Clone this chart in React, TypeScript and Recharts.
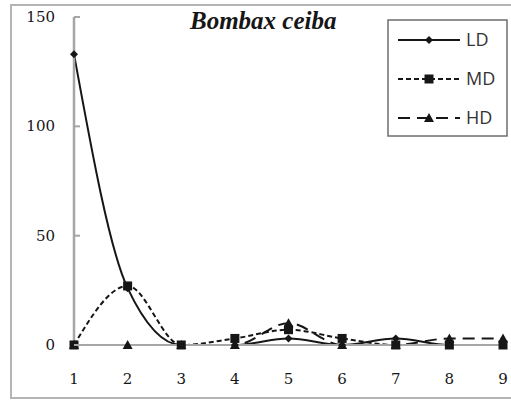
import React from 'react';
import { LineChart, Line, XAxis, YAxis } from 'recharts';

// Sampling positions and counts per series
const positions = [1, 2, 3, 4, 5, 6, 7, 8, 9];
const ldValues = [133, 26, 0, 0, 3, 0, 3, 0, 0];
const mdValues = [0, 27, 0, 3, 7, 3, 0, 0, 0];
const hdValues = [0, 0, 0, 0, 10, 0, 0, 3, 3];
const yTicks = [0, 50, 100, 150];

const data = positions.map((x, i) => ({
  x,
  LD: ldValues[i],
  MD: mdValues[i],
  HD: hdValues[i],
}));

const INK = '#161616';
const AXIS = '#a6a6a6';
const NUM_FONT = '"DejaVu Serif", serif';

const Diamond = (props: any) => {
  const { cx, cy } = props;
  if (cx == null || cy == null) return null;
  return <path d={`M${cx},${cy - 4}L${cx + 4},${cy}L${cx},${cy + 4}L${cx - 4},${cy}Z`} fill={INK} />;
};

const Square = (props: any) => {
  const { cx, cy } = props;
  if (cx == null || cy == null) return null;
  return <rect x={cx - 4.5} y={cy - 4.5} width={9} height={9} fill={INK} />;
};

const Triangle = (props: any) => {
  const { cx, cy } = props;
  if (cx == null || cy == null) return null;
  return <path d={`M${cx},${cy - 5}L${cx + 5},${cy + 4}L${cx - 5},${cy + 4}Z`} fill={INK} />;
};

const YTick = (props: any) => {
  const { x, y, payload } = props;
  return (
    <g>
      <line x1={x} y1={y} x2={x + 6} y2={y} stroke={AXIS} strokeWidth={2} />
      <text x={x - 19} y={y} dy={5} textAnchor="end" fontSize={15} fontFamily={NUM_FONT} fill={INK}>
        {payload.value}
      </text>
    </g>
  );
};

const LegendBox = () => {
  const rows = [
    { name: 'LD', dash: undefined, Mark: Diamond },
    { name: 'MD', dash: '5 3', Mark: Square },
    { name: 'HD', dash: '12 7', Mark: Triangle },
  ];
  return (
    <svg width={121} height={118} style={{ display: 'block' }}>
      <rect x={1} y={1} width={119} height={116} fill="#fff" stroke="#6e6e6e" strokeWidth={1.5} />
      {rows.map((r, i) => {
        const cy = 21 + i * 39;
        return (
          <g key={r.name}>
            <line x1={11} y1={cy} x2={73} y2={cy} stroke={INK} strokeWidth={2} strokeDasharray={r.dash} />
            <r.Mark cx={42} cy={cy} />
            <text x={79} y={cy} dy={6} fontSize={18} fontFamily='"Open Sans", sans-serif' fill="#333">
              {r.name}
            </text>
          </g>
        );
      })}
    </svg>
  );
};

export default function App() {
  return (
    <div style={{ position: 'absolute', left: 0, top: 0, width: 511, height: 402, background: '#fff' }}>
      <div
        style={{
          position: 'absolute',
          left: 10,
          top: 4,
          width: 510,
          height: 395,
          border: '2px solid #b4b4b4',
          borderRight: 'none',
          boxSizing: 'border-box',
        }}
      />
      <LineChart width={511} height={402} data={data} margin={{ top: 17, right: 8, bottom: 0, left: 0 }}>
        <XAxis
          dataKey="x"
          type="number"
          domain={[1, 9]}
          ticks={positions}
          tickLine={false}
          axisLine={{ stroke: AXIS, strokeWidth: 2 }}
          tickMargin={22}
          tick={{ fontSize: 15, fontFamily: NUM_FONT, fill: INK }}
          height={57}
        />
        <YAxis
          domain={[0, 150]}
          ticks={yTicks}
          width={74}
          tickLine={false}
          tickSize={0}
          tickMargin={0}
          axisLine={{ stroke: AXIS, strokeWidth: 2.5 }}
          tick={<YTick />}
        />
        <Line type="monotone" dataKey="HD" stroke={INK} strokeWidth={2} strokeDasharray="12 7" dot={<Triangle />} activeDot={false} isAnimationActive={false} />
        <Line type="monotone" dataKey="MD" stroke={INK} strokeWidth={2} strokeDasharray="5 3" dot={<Square />} activeDot={false} isAnimationActive={false} />
        <Line type="monotone" dataKey="LD" stroke={INK} strokeWidth={2} dot={<Diamond />} activeDot={false} isAnimationActive={false} />
      </LineChart>
      <div style={{ position: 'absolute', left: 387, top: 19 }}>
        <LegendBox />
      </div>
      <div
        style={{
          position: 'absolute',
          left: 190,
          top: 7,
          fontFamily: '"Liberation Serif", serif',
          fontWeight: 'bold',
          fontStyle: 'italic',
          fontSize: 25,
          color: INK,
          whiteSpace: 'nowrap',
        }}
      >
        Bombax ceiba
      </div>
    </div>
  );
}
